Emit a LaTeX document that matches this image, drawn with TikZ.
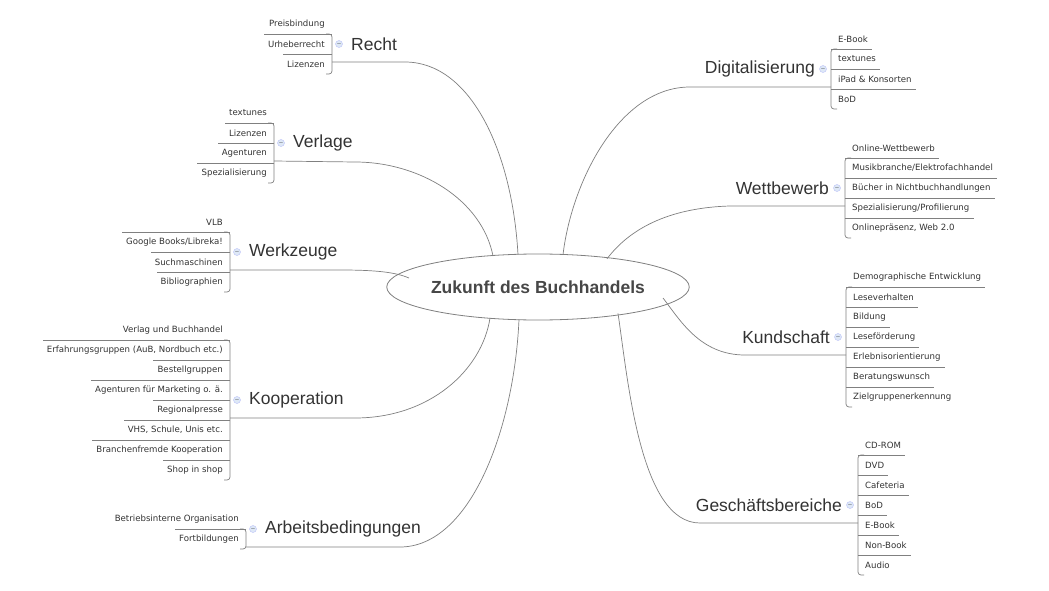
\documentclass[tikz,border=0pt]{standalone}
\usetikzlibrary{shapes.geometric}
\usepackage{fontspec}
\setmainfont{Liberation Sans}
\newfontfamily\leaffont{DejaVu Sans}
\definecolor{txt}{HTML}{333333}
\definecolor{ln}{HTML}{808080}
\definecolor{mb}{HTML}{C8D8F0}
\begin{document}
\begin{tikzpicture}[x=1pt,y=-1pt,
  leaf/.style={font=\leaffont\fontsize{8.6}{10}\selectfont,text=txt,inner sep=0pt},
  blab/.style={font=\fontsize{17.5}{18}\selectfont,text=txt,inner sep=0pt},
  conn/.style={draw=ln,line width=0.7pt},
  minus/.style={circle,draw=mb!70!blue!60,fill=mb!60,minimum size=7pt,inner sep=0pt}]
\path[use as bounding box,fill=white] (0,0) rectangle (1049,591);
\newcommand\rbr[6]{% id, label, bx, y1, n, items
  \foreach \t [count=\i] in {#6}{
    \pgfmathsetmacro\yy{#4+20*(\i-1)}
    \node[leaf,anchor=west] (#1\i) at (#3+7,\yy) {\t};
    \ifnum\i<#5 \draw[conn] (#3,\yy+10) -- ([xshift=4pt]#1\i.east |- #3,\yy+10);\fi
  }
  \pgfmathsetmacro\ya{#4+10}\pgfmathsetmacro\yb{#4+20*(#5-1)+10}\pgfmathsetmacro\ym{#4+10*(#5-1)}
  \draw[conn,rounded corners=3pt] (#3+6,\ya) -- (#3,\ya) -- (#3,\yb) -- (#3+6,\yb);
  \node[minus] (#1m) at (#3-8,\ym) {\tiny$-$};
  \node[blab,anchor=east] (#1l) at (#3-16,\ym) {#2};
  \coordinate (#1s) at (#3,\ym+18);
}
\newcommand\lbr[6]{%
  \foreach \t [count=\i] in {#6}{
    \pgfmathsetmacro\yy{#4+20*(\i-1)}
    \node[leaf,anchor=east] (#1\i) at (#3-7,\yy) {\t};
    \ifnum\i>1 \draw[conn] (#3,\yy-10) -- ([xshift=-4pt]#1\i.west |- #3,\yy-10);\fi
  }
  \pgfmathsetmacro\ya{#4+10}\pgfmathsetmacro\yb{#4+20*(#5-1)+10}\pgfmathsetmacro\ym{#4+10*(#5-1)}
  \draw[conn,rounded corners=3pt] (#3-6,\ya) -- (#3,\ya) -- (#3,\yb) -- (#3-6,\yb);
  \node[minus] (#1m) at (#3+7,\ym) {\tiny$-$};
  \node[blab,anchor=west] (#1l) at (#3+19,\ym) {#2};
  \coordinate (#1s) at (#3,\ym+18);
}
\node[ellipse,draw=ln,line width=0.8pt,minimum width=266pt,minimum height=66pt,inner sep=0pt,
  font=\bfseries\fontsize{17.5}{19}\selectfont,text=txt!90!white] (c) at (538,287) {Zukunft des Buchhandels};

\lbr{r}{Recht}{332}{24}{3}{Preisbindung,Urheberrecht,Lizenzen}
\lbr{v}{Verlage}{274}{113}{4}{textunes,Lizenzen,Agenturen,Spezialisierung}
\lbr{w}{Werkzeuge}{230}{222}{4}{VLB,Google Books/Libreka!,Suchmaschinen,Bibliographien}
\lbr{k}{Kooperation}{230}{330}{8}{Verlag und Buchhandel,{Erfahrungsgruppen (AuB, Nordbuch etc.)},Bestellgruppen,Agenturen für Marketing o. ä.,Regionalpresse,{VHS, Schule, Unis etc.},Branchenfremde Kooperation,Shop in shop}
\lbr{a}{Arbeitsbedingungen}{246}{519}{2}{Betriebsinterne Organisation,Fortbildungen}
\rbr{d}{Digitalisierung}{831}{39}{4}{E-Book,textunes,iPad \& Konsorten,BoD}
\rbr{b}{Wettbewerb}{845}{148}{5}{Online-Wettbewerb,Musikbranche/Elektrofachhandel,Bücher in Nichtbuchhandlungen,Spezialisierung/Profilierung,{Onlinepräsenz, Web 2.0}}
\rbr{u}{Kundschaft}{846}{277}{7}{Demographische Entwicklung,Leseverhalten,Bildung,Leseförderung,Erlebnisorientierung,Beratungswunsch,Zielgruppenerkennung}
\rbr{g}{Geschäftsbereiche}{858}{445}{7}{CD-ROM,DVD,Cafeteria,BoD,E-Book,Non-Book,Audio}

\coordinate (re) at (518,254.5);
\coordinate (ve) at (493,256);
\coordinate (we) at (409,278);
\coordinate (ke) at (490,318);
\coordinate (ae) at (519,319.5);
\coordinate (de) at (563,254.6);
\coordinate (be) at (607,258.8);
\coordinate (ue) at (663,298);
\coordinate (ge) at (618,313.4);
\draw[conn] (rs) -- (405,62) .. controls (470,62) and (512,150) .. (re);
\draw[conn] (vs) -- (355,162) .. controls (420,162) and (482,200) .. (ve);
\draw[conn] (ws) -- (340,270) .. controls (375,270) and (395,272) .. (we);
\draw[conn] (ks) -- (355,418) .. controls (430,418) and (482,370) .. (ke);
\draw[conn] (as) -- (400,547) .. controls (470,547) and (514,430) .. (ae);
\draw[conn] (ds) -- (690,87) .. controls (620,87) and (572,180) .. (de);
\draw[conn] (bs) -- (730,206) .. controls (660,208) and (625,235) .. (be);
\draw[conn] (us) -- (745,355) .. controls (700,355) and (680,320) .. (ue);
\draw[conn] (gs) -- (700,523) .. controls (640,523) and (628,380) .. (ge);
\end{tikzpicture}
\end{document}
